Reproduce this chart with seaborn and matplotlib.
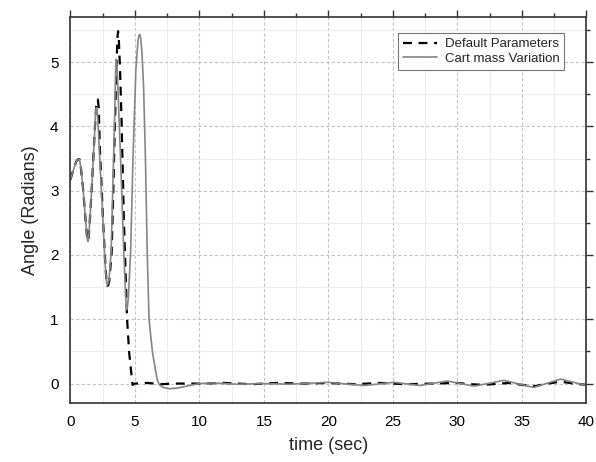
import numpy as np
import pandas as pd
import seaborn as sns
import matplotlib.pyplot as plt
from matplotlib.ticker import MultipleLocator

# Values
t_default = [0.0, 0.2, 0.45, 0.6, 0.71, 0.82, 0.97, 1.18, 1.3, 1.36, 1.42, 1.5, 1.67, 1.87,
             2.0, 2.07, 2.13, 2.2, 2.28, 2.52, 2.7, 2.8, 2.87, 2.94, 3.02, 3.2, 3.33, 3.45,
             3.6, 3.66, 3.7, 3.76, 3.85, 3.97, 4.15, 4.4, 4.56, 4.82, 5.0, 6.0, 7.0, 8.0,
             10.0, 12.0, 14.0, 16.0, 18.0, 20.0, 22.0, 24.0, 26.0, 28.0, 30.0, 31.0, 32.0,
             34.0, 35.0, 36.0, 37.0, 38.0, 39.0, 40.0]
y_default = [3.17, 3.3, 3.45, 3.49, 3.49, 3.35, 3.07, 2.55, 2.27, 2.21, 2.27, 2.5, 3.07, 3.85,
             4.3, 4.4, 4.42, 4.3, 3.7, 2.6, 1.9, 1.6, 1.52, 1.53, 1.6, 2.03, 3.0, 4.0,
             5.1, 5.4, 5.48, 5.35, 4.9, 4.1, 2.55, 1.0, 0.48, -0.02, 0.0, 0.01, -0.01, 0.0,
             0.0, 0.01, -0.01, 0.01, 0.0, 0.01, -0.01, 0.01, -0.01, 0.0, 0.01, -0.01, -0.02,
             0.01, -0.02, -0.04, 0.0, 0.03, 0.0, -0.02]

t_cart = [0.0, 0.2, 0.45, 0.6, 0.71, 0.82, 0.97, 1.18, 1.3, 1.36, 1.42, 1.5, 1.67, 1.87,
          1.95, 2.0, 2.06, 2.12, 2.26, 2.52, 2.7, 2.8, 2.85, 2.92, 3.0, 3.16, 3.3, 3.43,
          3.49, 3.53, 3.58, 3.65, 3.8, 3.97, 4.15, 4.3, 4.36, 4.42, 4.5, 4.67, 4.87, 5.08,
          5.25, 5.33, 5.39, 5.45, 5.55, 5.68, 5.82, 5.96, 6.1, 6.37, 6.73, 6.9, 7.2, 7.7,
          8.3, 9.0, 10.0, 11.0, 12.0, 13.0, 15.0, 17.0, 19.0, 20.0, 21.0, 22.8, 25.1,
          27.1, 29.2, 31.3, 33.6, 35.9, 38.0, 39.4, 40.0]
y_cart = [3.17, 3.3, 3.45, 3.49, 3.49, 3.35, 3.07, 2.55, 2.27, 2.21, 2.27, 2.5, 3.07, 3.85,
          4.18, 4.29, 4.28, 4.15, 3.59, 2.55, 1.85, 1.6, 1.54, 1.55, 1.62, 2.03, 3.1, 4.1,
          4.7, 5.04, 5.0, 4.8, 4.0, 3.07, 2.0, 1.3, 1.15, 1.18, 1.35, 2.03, 3.59, 4.88,
          5.35, 5.42, 5.43, 5.38, 5.15, 4.6, 3.5, 2.03, 1.0, 0.48, 0.06, -0.02, -0.06, -0.08,
          -0.07, -0.04, 0.0, 0.01, 0.0, -0.01, 0.0, -0.01, 0.01, 0.02, 0.0, -0.03, 0.02,
          -0.03, 0.04, -0.04, 0.05, -0.06, 0.07, 0.0, -0.03]

df = pd.concat([
    pd.DataFrame({"t": t_default, "angle": y_default, "case": "Default Parameters"}),
    pd.DataFrame({"t": t_cart, "angle": y_cart, "case": "Cart mass Variation"}),
])

sns.set_style("white")
plt.rcParams['font.family'] = ['Liberation Sans', 'DejaVu Sans']

fig = plt.figure(figsize=(5.96, 4.62), dpi=100)
ax = fig.add_axes([0.118, 0.128, 0.866, 0.835])

sns.lineplot(data=df, x="t", y="angle", hue="case", style="case",
             palette={"Default Parameters": "black", "Cart mass Variation": "#858585"},
             dashes={"Default Parameters": (4, 3), "Cart mass Variation": ""},
             sort=False, estimator=None, ax=ax)
for line in ax.get_lines():
    if line.get_color() == "black":
        line.set_linewidth(1.6)
    else:
        line.set_linewidth(1.2)

ax.set_xlim(0, 40)
ax.set_ylim(-0.3, 5.7)
ax.xaxis.set_major_locator(MultipleLocator(5))
ax.xaxis.set_minor_locator(MultipleLocator(2.5))
ax.yaxis.set_major_locator(MultipleLocator(1))
ax.yaxis.set_minor_locator(MultipleLocator(0.5))

ax.grid(which="major", color="#c4c4c4", linestyle=(0, (3, 2)), linewidth=0.8)
ax.grid(which="minor", color="#ececec", linestyle="-", linewidth=0.7)
ax.set_axisbelow(True)

for s in ax.spines.values():
    s.set_color("#333333")
    s.set_linewidth(1.2)
ax.tick_params(which="both", direction="out", top=True, right=True,
               colors="#333333", labelcolor="black", labelsize=11)
ax.tick_params(which="major", length=5, width=1.0)
ax.tick_params(which="minor", length=3, width=1.0)
ax.tick_params(axis="both", which="both", labeltop=False, labelright=False)

ax.set_xlabel("time (sec)", fontsize=13, labelpad=6)
ax.set_ylabel("Angle (Radians)", fontsize=13, labelpad=8)

leg = ax.legend(loc="upper right", bbox_to_anchor=(0.97, 0.975), fontsize=9.5,
                frameon=True, fancybox=False, handlelength=2.6,
                borderpad=0.35, labelspacing=0.2, handletextpad=0.6)
leg.get_frame().set_edgecolor("#555555")
leg.get_frame().set_linewidth(0.8)
leg.set_title(None)

fig.savefig("out.png", dpi=100)
